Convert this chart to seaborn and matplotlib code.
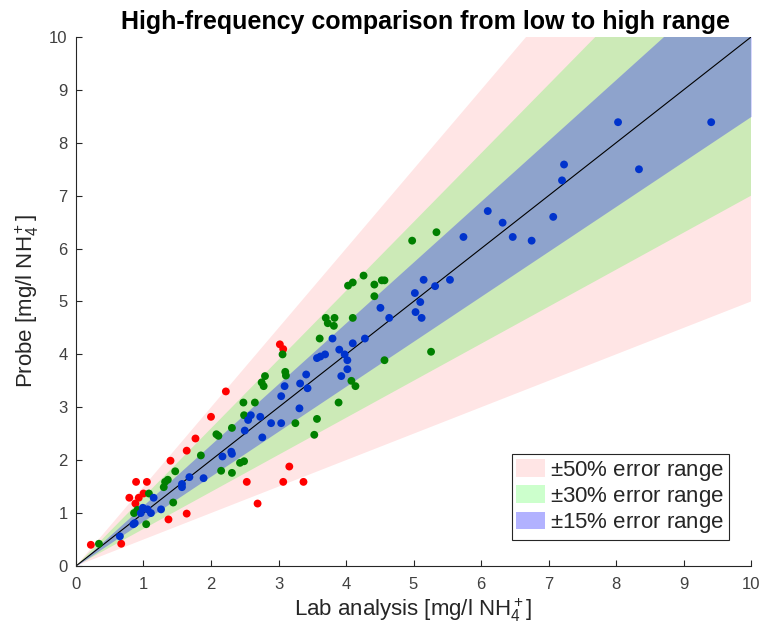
import numpy as np
import pandas as pd
import matplotlib
matplotlib.use("Agg")
import matplotlib.pyplot as plt
import seaborn as sns

# ---- data ----
red_x = [0.22, 0.67, 0.89, 1.05, 0.79, 0.93, 0.88, 1.00, 1.37, 1.64, 1.40, 1.64, 1.77, 2.00, 2.22,
         2.53, 3.02, 3.07, 3.16, 3.07, 3.37, 2.69]
red_y = [0.40, 0.42, 1.59, 1.59, 1.29, 1.29, 1.18, 1.37, 0.88, 0.99, 1.99, 2.18, 2.41, 2.82, 3.30,
         1.59, 4.19, 4.10, 1.88, 1.59, 1.59, 1.18]

green_x = [0.34, 0.86, 0.91, 1.08, 1.04, 1.44, 1.30, 1.32, 1.36, 1.47, 1.85, 2.08, 2.11, 2.31, 2.48,
           2.49, 2.15, 2.31, 2.43, 2.49, 4.26, 4.03, 4.10, 4.42, 4.53, 4.57, 4.42, 3.70, 3.83, 3.73,
           3.82, 4.10, 3.61, 3.06, 3.10, 3.11, 2.80, 2.75, 2.78, 2.65, 3.25, 3.57, 3.53, 3.89, 4.08,
           4.14, 4.57, 5.34, 4.98, 5.26]
green_y = [0.42, 1.00, 1.06, 1.37, 0.79, 1.20, 1.49, 1.59, 1.63, 1.79, 2.09, 2.49, 2.46, 2.61, 3.09,
           2.85, 1.80, 1.76, 1.95, 1.98, 5.49, 5.30, 5.36, 5.32, 5.40, 5.40, 5.10, 4.69, 4.69, 4.59,
           4.54, 4.69, 4.30, 4.00, 3.67, 3.60, 3.59, 3.47, 3.40, 3.09, 2.70, 2.78, 2.48, 3.09, 3.50,
           3.40, 3.89, 6.31, 6.15, 4.05]

blue_x = [0.65, 0.85, 0.87, 0.96, 0.99, 1.06, 1.11, 1.15, 1.26, 1.57, 1.57, 1.68, 1.89, 2.17, 2.30,
          2.31, 2.50, 2.55, 2.59, 2.73, 2.76, 2.89, 3.04, 3.31, 3.04, 3.09, 3.32, 3.43, 3.41, 3.93,
          4.02, 3.57, 3.62, 3.69, 3.98, 4.02, 3.90, 3.80, 4.10, 4.28, 4.51, 4.64, 5.02, 5.10, 5.03,
          5.12, 5.15, 5.32, 5.54, 5.74, 6.10, 6.32, 6.47, 6.75, 7.07, 7.20, 7.23, 8.03, 8.34, 9.41]
blue_y = [0.56, 0.79, 0.81, 1.00, 1.10, 1.07, 1.00, 1.29, 1.07, 1.55, 1.49, 1.68, 1.66, 2.07, 2.16,
          2.12, 2.56, 2.76, 2.85, 2.82, 2.43, 2.70, 2.70, 2.98, 3.21, 3.40, 3.45, 3.36, 3.62, 3.59,
          3.72, 3.93, 3.96, 4.00, 4.00, 3.89, 4.09, 4.30, 4.21, 4.30, 4.88, 4.69, 5.16, 4.99, 4.80,
          4.69, 5.41, 5.29, 5.41, 6.22, 6.71, 6.49, 6.22, 6.15, 6.60, 7.29, 7.59, 8.39, 7.50, 8.39]

band_pct = [50, 30, 15]
band_labels = ["$\\pm$50% error range", "$\\pm$30% error range", "$\\pm$15% error range"]
ticks = list(range(0, 11))

# ---- style ----
sns.set_style("white")
plt.rcParams["font.family"] = ["Liberation Sans", "DejaVu Sans"]
plt.rcParams["mathtext.fontset"] = "custom"
plt.rcParams["mathtext.rm"] = "Liberation Sans"
plt.rcParams["mathtext.it"] = "Liberation Sans:italic"
plt.rcParams["mathtext.bf"] = "Liberation Sans:bold"

fig = plt.figure(figsize=(7.63, 6.34), dpi=100)
ax = fig.add_axes([0.0996, 0.1073, 0.8847, 0.8343])

xx = np.array([0, 10])
band_colors = [(1, 0, 0), (0, 1, 0), (0, 0, 1)]
band_alphas = [0.1, 0.2, 0.3]
for p, c, a, lab in zip(band_pct, band_colors, band_alphas, band_labels):
    f = p / 100.0
    ax.fill_between(xx, xx * (1 - f), xx * (1 + f), color=c, alpha=a, linewidth=0, label=lab)

sns.lineplot(x=xx, y=xx, ax=ax, color="black", linewidth=0.8)

df = pd.concat([
    pd.DataFrame({"lab": red_x, "probe": red_y, "grp": "r"}),
    pd.DataFrame({"lab": green_x, "probe": green_y, "grp": "g"}),
    pd.DataFrame({"lab": blue_x, "probe": blue_y, "grp": "b"}),
], ignore_index=True)
sns.scatterplot(data=df, x="lab", y="probe", hue="grp",
                palette={"r": "#ff0000", "g": "#008000", "b": "#0033cc"},
                s=32, edgecolor="none", linewidth=0, legend=False, ax=ax, zorder=3)

ax.set_xlim(0, 10)
ax.set_ylim(0, 10)
ax.set_xticks(ticks)
ax.set_yticks(ticks)
ax.set_xticklabels([str(t) for t in ticks])
ax.set_yticklabels([str(t) for t in ticks])
ax.tick_params(bottom=True, left=True, top=False, right=False,
               direction="in", length=4.5, width=0.8, colors="#262626", labelsize=12,
               labelcolor="#404040")
ax.tick_params(axis="x", pad=8)
ax.tick_params(axis="y", pad=6)
for s in ["top", "right"]:
    ax.spines[s].set_visible(False)
for s in ["left", "bottom"]:
    ax.spines[s].set_color("#262626")
    ax.spines[s].set_linewidth(0.8)

ax.set_xlabel("Lab analysis [mg/l NH$_4^+$]", fontsize=16, color="#262626", labelpad=3)
ax.set_ylabel("Probe [mg/l NH$_4^+$]", fontsize=16, color="#262626", labelpad=6)
ax.set_title("High-frequency comparison from low to high range", fontsize=18,
             fontweight="bold", color="black", pad=6, x=0.518)

leg = ax.legend(loc="lower right", bbox_to_anchor=(0.967, 0.049), fontsize=16,
                frameon=True, fancybox=False, edgecolor="#262626", framealpha=1,
                handlelength=1.3, handleheight=0.85, handletextpad=0.2,
                labelspacing=0.1, borderpad=0.22, borderaxespad=0)
leg.get_frame().set_linewidth(0.8)

fig.savefig("out.png", dpi=100)
